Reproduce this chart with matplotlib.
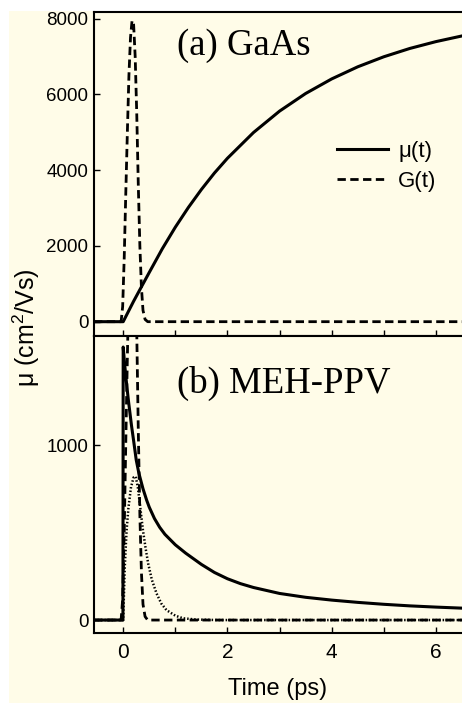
'''
  Two stacked panels: time dependent mobility mu(t) and pulse G(t)
for GaAs (top) and MEH-PPV (bottom).
'''

import matplotlib
matplotlib.use('Agg')
import matplotlib.pyplot as plt
from matplotlib.patches import Rectangle
from matplotlib.ticker import FixedLocator

plt.rcParams['font.family'] = ['Liberation Sans', 'DejaVu Sans']
plt.rcParams['mathtext.fontset'] = 'custom'
plt.rcParams['mathtext.rm'] = 'Liberation Sans'
plt.rcParams['mathtext.default'] = 'regular'

CREAM = '#fffce8'

# (a) GaAs, values
t_mu_a = [-0.56, 0.0, 0.1, 0.2, 0.32, 0.5, 0.75, 1.0, 1.25, 1.5, 1.75, 2.0,
          2.5, 3.0, 3.5, 4.0, 4.5, 5.0, 5.5, 6.0, 6.5]
mu_a = [0, 0, 270, 540, 845, 1300, 1925, 2495, 3015, 3490, 3925, 4315,
        4995, 5560, 6025, 6410, 6730, 6995, 7215, 7395, 7545]

t_g_a = [-0.56, -0.04, -0.01, 0.02, 0.05, 0.08, 0.11, 0.14, 0.17, 0.20, 0.23,
         0.26, 0.29, 0.32, 0.35, 0.38, 0.42, 0.47, 6.5]
g_a = [0, 0, 400, 1700, 3400, 5000, 6500, 7500, 7950, 7850, 7000,
       5500, 3600, 2000, 900, 300, 60, 0, 0]

# (b) MEH-PPV
t_mu_b = [-0.56, -0.005, 0.0, 0.03, 0.065, 0.1, 0.16, 0.2, 0.25, 0.3, 0.38,
          0.45, 0.5, 0.6, 0.7, 0.8, 1.0, 1.2, 1.5, 1.75, 2.0, 2.25, 2.5, 3.0,
          3.5, 4.0, 4.5, 5.0, 5.5, 6.0, 6.5]
mu_b = [0, 0, 1560, 1455, 1350, 1255, 1110, 1025, 915, 840, 750,
        685, 645, 580, 530, 490, 430, 382, 318, 272, 236, 208, 186, 152,
        130, 114, 101, 90, 81, 74, 68]

t_g_b = [-0.56, -0.04, -0.01, 0.02, 0.05, 0.08, 0.11, 0.14, 0.17, 0.20, 0.23,
         0.26, 0.29, 0.32, 0.35, 0.38, 0.42, 0.47, 6.5]
g_b = [0, 0, 120, 510, 1020, 1500, 1950, 2250, 2390, 2360, 2100,
       1650, 1080, 600, 270, 90, 20, 0, 0]

t_dot_b = [-0.56, 0.0, 0.03, 0.065, 0.1, 0.15, 0.2, 0.24, 0.28, 0.32, 0.38,
           0.43, 0.48, 0.55, 0.64, 0.73, 0.83, 1.0, 1.15, 1.4, 1.8, 6.5]
dot_b = [0, 0, 300, 511, 640, 760, 815, 820, 760, 663, 511,
         410, 322, 230, 152, 95, 57, 25, 10, 3, 0, 0]

x_major = [0, 2, 4, 6]
x_minor = [1, 3, 5]
yticks_a = [0, 2000, 4000, 6000, 8000]
yticks_b = [0, 1000]


def style_axes(ax, yticks):
    '''
    Inward ticks, no right spine, cream face.
    '''
    ax.set_facecolor(CREAM)
    ax.set_xlim(-0.56, 6.5)
    ax.xaxis.set_major_locator(FixedLocator(x_major))
    ax.xaxis.set_minor_locator(FixedLocator(x_minor))
    ax.set_yticks(yticks)
    ax.spines['right'].set_visible(False)
    for s in ['left', 'top', 'bottom']:
        ax.spines[s].set_linewidth(1.5)
    ax.tick_params(axis='both', which='both', direction='in', length=4.5,
                   width=1.0, right=False, top=False)
    ax.tick_params(axis='y', labelsize=13.5, pad=4)
    ax.tick_params(axis='x', labelsize=15, pad=7)


fig = plt.figure(figsize=(4.62, 7.03), dpi=100, facecolor='white')
# cream background, offset from the top and left edges
fig.patches.append(Rectangle((9 / 462, 0), 1, (703 - 11) / 703,
                             transform=fig.transFigure, facecolor=CREAM,
                             edgecolor='none', zorder=-1))

ax1 = fig.add_axes([94 / 462, (703 - 336) / 703, 1 - 94 / 462, 324 / 703])
ax2 = fig.add_axes([94 / 462, (703 - 633) / 703, 1 - 94 / 462, 297 / 703])

# Top panel
ax1.plot(t_mu_a, mu_a, color='black', lw=2.2, label='μ(t)')
ax1.plot(t_g_a, g_a, color='black', lw=2.0, dashes=(3, 1.6), label='G(t)')
style_axes(ax1, yticks_a)
ax1.set_ylim(-378, 8177)
ax1.tick_params(axis='x', labelbottom=False)
ax1.text(177 / 462, 1 - 55 / 703, '(a) GaAs', transform=fig.transFigure,
         family='Liberation Serif', fontsize=26.5)
ax1.legend(loc='upper left', bbox_to_anchor=(337 / 462, 1 - 141 / 703),
           bbox_transform=fig.transFigure, frameon=False, fontsize=16,
           handlelength=2.3, handletextpad=0.45, labelspacing=0.4,
           borderpad=0, borderaxespad=0)

# Bottom panel
ax2.plot(t_dot_b, dot_b, color='black', lw=1.8, dashes=(0.6, 0.8))
ax2.plot(t_g_b, g_b, color='black', lw=2.0, dashes=(3, 1.6))
ax2.plot(t_mu_b, mu_b, color='black', lw=2.2)
style_axes(ax2, yticks_b)
ax2.set_ylim(-74, 1623)
ax2.set_xlabel('Time (ps)', fontsize=17, labelpad=12)
ax2.text(177 / 462, 1 - 393 / 703, '(b) MEH-PPV', transform=fig.transFigure,
         family='Liberation Serif', fontsize=26.5)

fig.text(26 / 462, 1 - 328 / 703, 'μ (cm$^2$/Vs)', rotation=90,
         ha='center', va='center', fontsize=18)

fig.savefig('out.png', dpi=100, facecolor=fig.get_facecolor())
